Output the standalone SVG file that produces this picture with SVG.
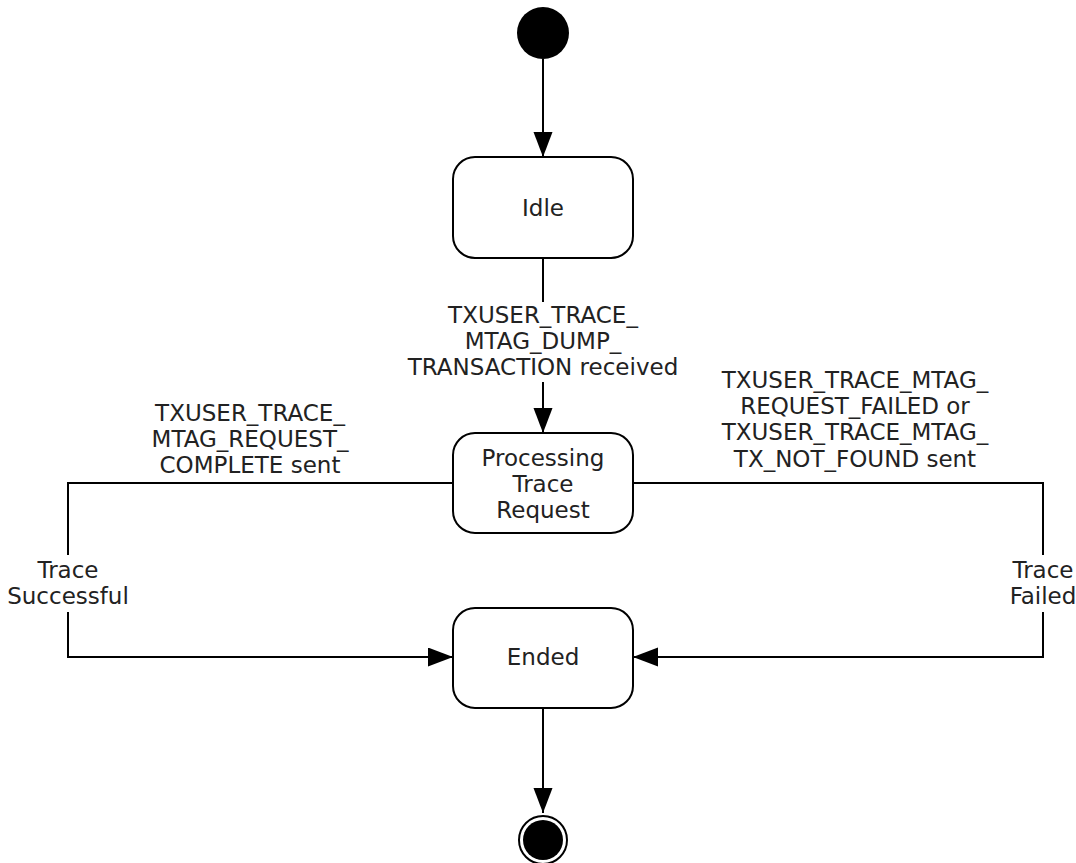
<svg xmlns="http://www.w3.org/2000/svg" width="1076" height="863" viewBox="0 0 1076 863">
<style>
.box{fill:#fff;stroke:#000;stroke-width:2}
.ln{fill:none;stroke:#000;stroke-width:2}
text{font-family:"DejaVu Sans","Verdana",sans-serif;font-size:23px;fill:#222;text-anchor:middle}
</style>
<defs>
<marker id="arr" markerWidth="26" markerHeight="20" refX="25" refY="9.5" orient="auto" markerUnits="userSpaceOnUse">
<path d="M0,0 L25,9.5 L0,19 Z" fill="#000"/>
</marker>
</defs>
<rect width="1076" height="863" fill="#fff"/>
<g id="connectors">
<line class="ln" x1="543" y1="59" x2="543" y2="157" marker-end="url(#arr)"/>
<line class="ln" x1="543" y1="258" x2="543" y2="302"/>
<line class="ln" x1="543" y1="382" x2="543" y2="433" marker-end="url(#arr)"/>
<polyline class="ln" points="453,483 68,483 68,555"/>
<polyline class="ln" points="68,612 68,657 453,657" marker-end="url(#arr)"/>
<polyline class="ln" points="633,483 1043,483 1043,555"/>
<polyline class="ln" points="1043,612 1043,657 633,657" marker-end="url(#arr)"/>
<line class="ln" x1="543" y1="708" x2="543" y2="813" marker-end="url(#arr)"/>
<text x="543" y="323">TXUSER_TRACE_</text>
<text x="543" y="349">MTAG_DUMP_</text>
<text x="543" y="375">TRANSACTION received</text>
<text x="250" y="421">TXUSER_TRACE_</text>
<text x="250" y="447">MTAG_REQUEST_</text>
<text x="250" y="473">COMPLETE sent</text>
<text x="68" y="578">Trace</text>
<text x="68" y="604">Successful</text>
<text x="855" y="388">TXUSER_TRACE_MTAG_</text>
<text x="855" y="414">REQUEST_FAILED or</text>
<text x="855" y="440">TXUSER_TRACE_MTAG_</text>
<text x="855" y="467">TX_NOT_FOUND sent</text>
<text x="1043" y="578">Trace</text>
<text x="1043" y="604">Failed</text>
</g>
<g id="start"><circle cx="543" cy="33" r="26" fill="#000"/></g>
<g id="idle"><rect class="box" x="453" y="157" width="180" height="101" rx="22"/><text x="543" y="216">Idle</text></g>
<g id="processing"><rect class="box" x="453" y="433" width="180" height="100" rx="22"/><text x="543" y="466">Processing</text><text x="543" y="492">Trace</text><text x="543" y="518">Request</text></g>
<g id="ended"><rect class="box" x="453" y="608" width="180" height="100" rx="22"/><text x="543" y="665">Ended</text></g>
<g id="end"><circle cx="543" cy="840" r="24" fill="#fff" stroke="#000" stroke-width="2"/><circle cx="543" cy="840" r="20" fill="#000"/></g>
</svg>
